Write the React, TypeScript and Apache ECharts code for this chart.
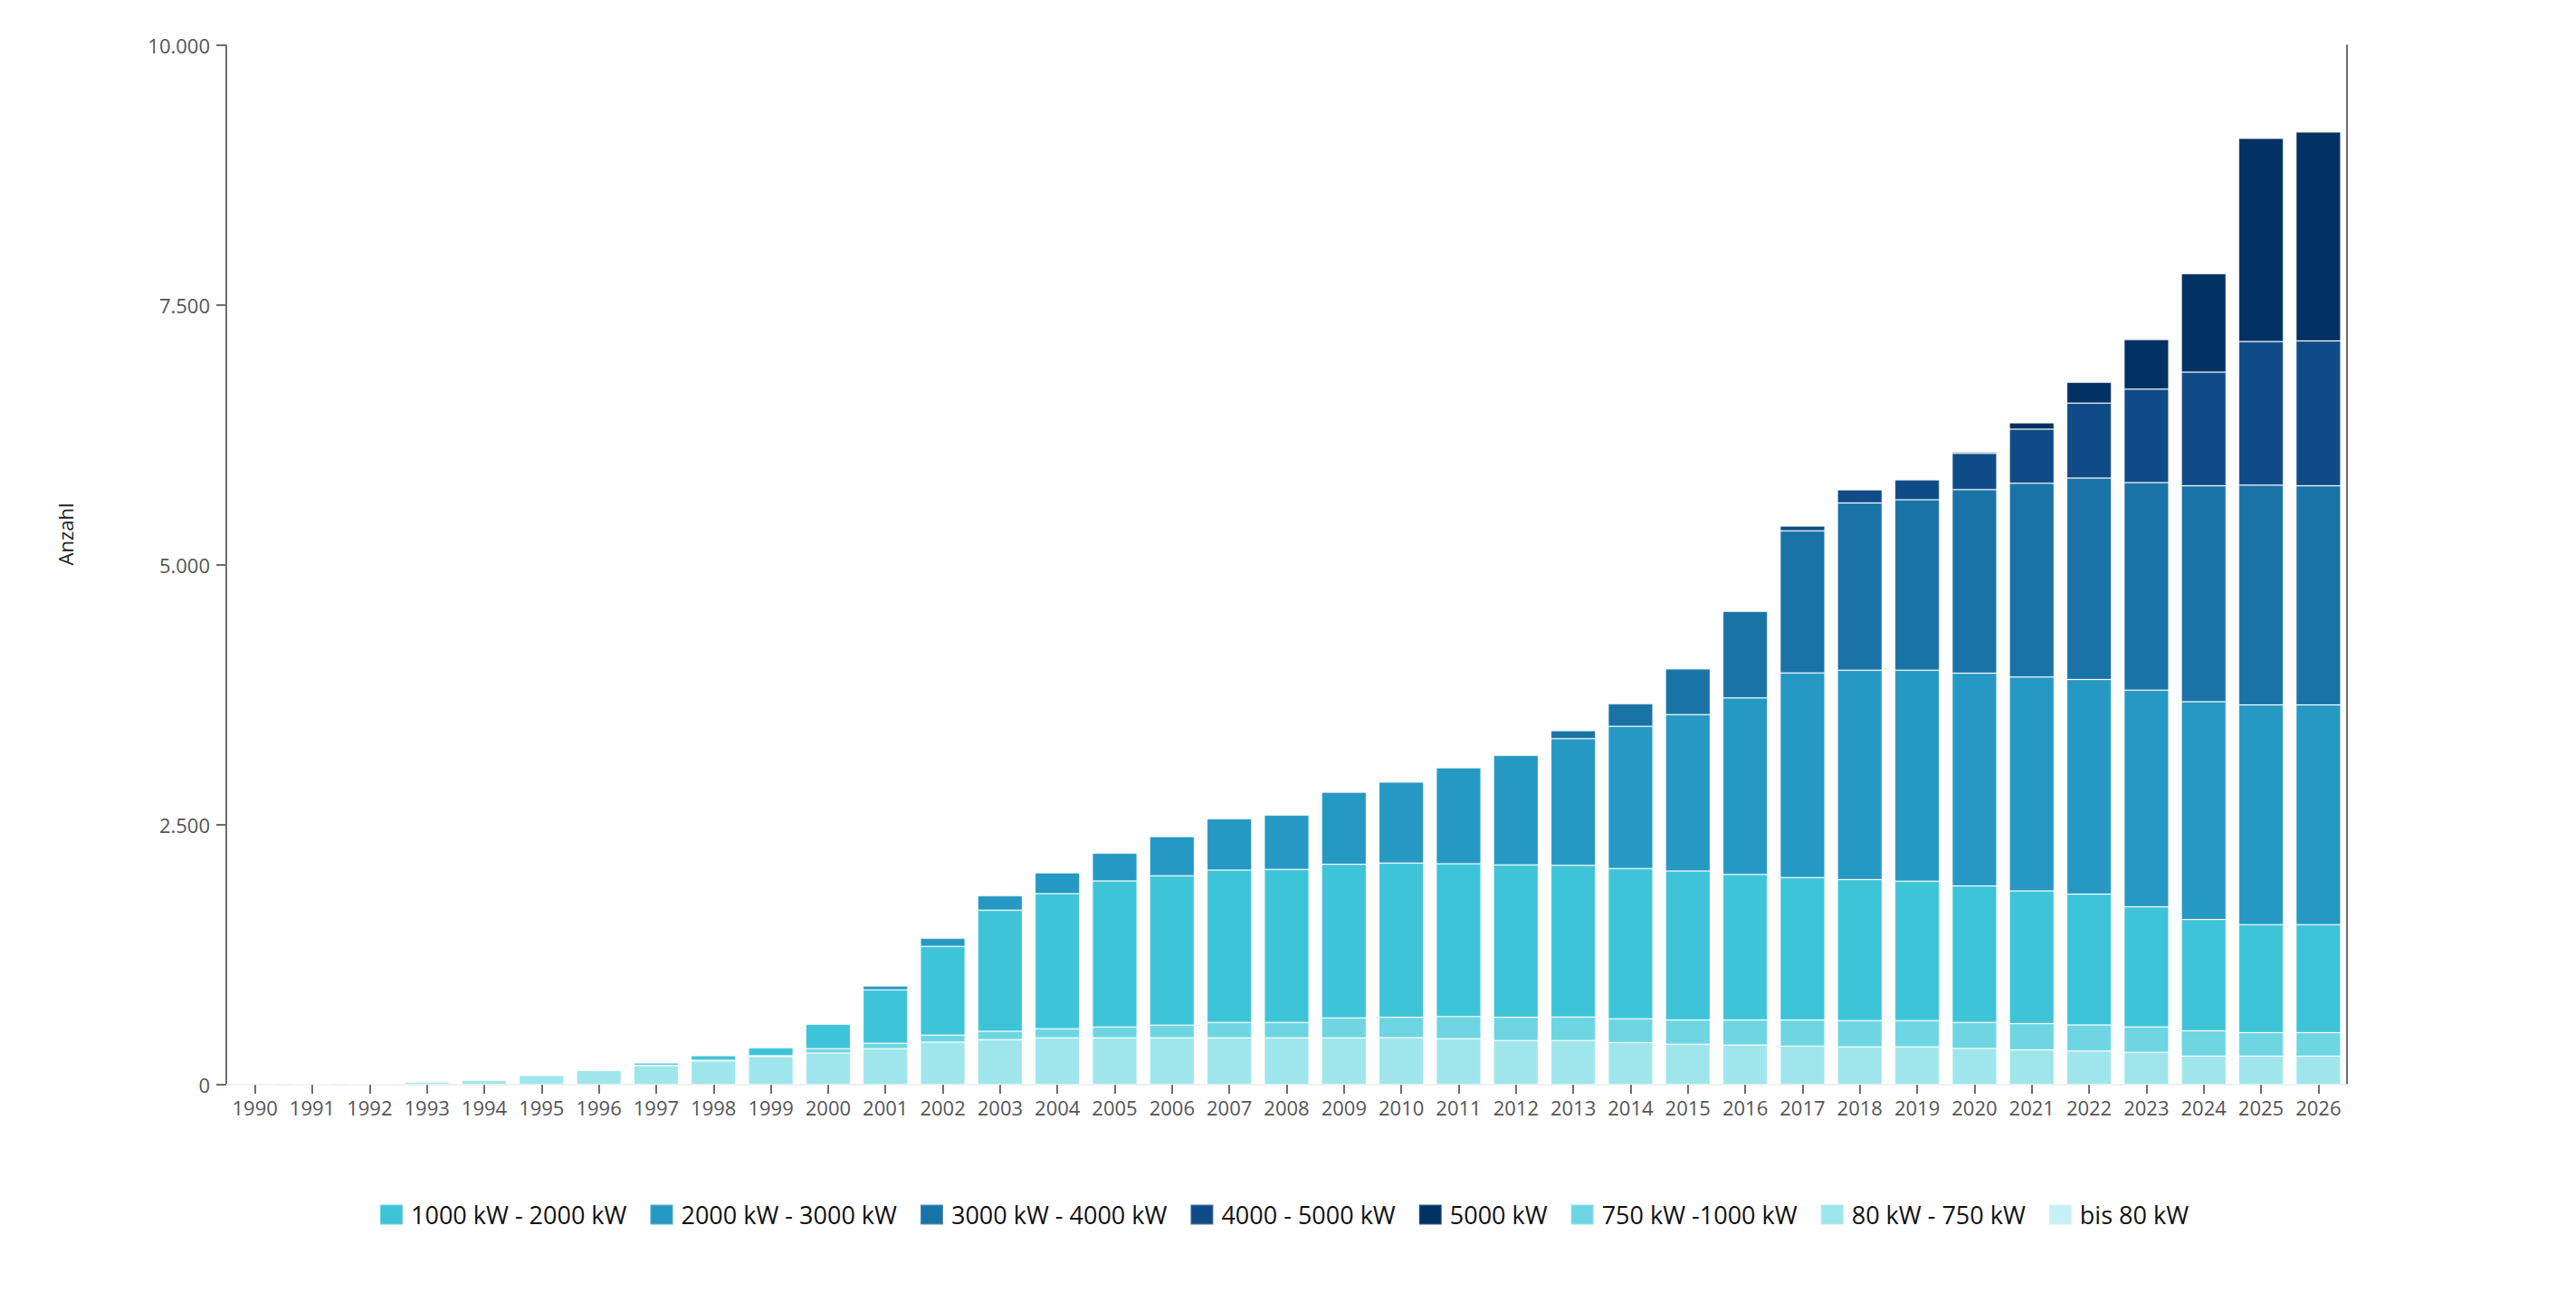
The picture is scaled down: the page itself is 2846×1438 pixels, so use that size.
import React, { useEffect, useRef } from "react";
import * as echarts from "echarts";

const years = [
  "1990","1991","1992","1993","1994","1995","1996","1997","1998","1999",
  "2000","2001","2002","2003","2004","2005","2006","2007","2008","2009",
  "2010","2011","2012","2013","2014","2015","2016","2017","2018","2019",
  "2020","2021","2022","2023","2024","2025","2026",
];

const bis80 = [1,2,3,3,3,3,3,3,3,3,3,3,3,3,3,3,3,3,3,3,3,3,3,3,3,3,2,2,2,2,2,2,2,2,2,2,2];
const kw80to750 = [2,3,6,20,38,87,134,180,226,267,302,343,406,430,447,447,447,447,447,447,449,438,421,421,403,386,380,369,362,362,346,334,322,310,273,273,273];
const kw750to1000 = [0,0,0,0,0,0,0,5,6,9,41,52,67,81,87,105,122,148,148,192,196,214,224,227,228,234,241,252,252,252,251,251,250,244,244,226,226];
const kw1000to2000 = [0,0,0,0,0,0,0,21,44,75,235,514,854,1164,1301,1405,1437,1466,1472,1478,1484,1470,1466,1460,1445,1432,1400,1369,1358,1341,1314,1277,1259,1155,1070,1039,1039];
const kw2000to3000 = [0,0,0,0,0,0,0,0,0,0,0,37,78,140,200,267,378,494,523,694,780,924,1054,1218,1369,1505,1698,1970,2013,2030,2047,2059,2066,2084,2096,2114,2114];
const kw3000to4000 = [0,0,0,0,0,0,0,0,0,0,0,0,0,0,0,0,0,0,0,0,0,0,10,77,217,441,833,1366,1610,1641,1766,1864,1937,1998,2077,2114,2108];
const kw4000to5000 = [0,0,0,0,0,0,0,0,0,0,0,0,0,0,0,0,0,0,0,0,0,0,0,0,0,0,0,47,126,190,348,519,721,898,1094,1381,1393];
const kw5000 = [0,0,0,0,0,0,0,0,0,0,0,0,0,0,0,0,0,0,0,0,0,0,0,0,0,0,0,0,0,0,12,61,201,477,947,1956,2011];

const yTicks = { min: 0, max: 10000, interval: 2500 };

const seriesDefs = [
  { name: "bis 80 kW", data: bis80, color: "#C6F1F6" },
  { name: "80 kW - 750 kW", data: kw80to750, color: "#9EE6EC" },
  { name: "750 kW -1000 kW", data: kw750to1000, color: "#6DD6E2" },
  { name: "1000 kW - 2000 kW", data: kw1000to2000, color: "#3EC4D8" },
  { name: "2000 kW - 3000 kW", data: kw2000to3000, color: "#2599C4" },
  { name: "3000 kW - 4000 kW", data: kw3000to4000, color: "#1A73A6" },
  { name: "4000 - 5000 kW", data: kw4000to5000, color: "#0F4C87" },
  { name: "5000 kW", data: kw5000, color: "#023163" },
];

const legendOrder = [
  "1000 kW - 2000 kW",
  "2000 kW - 3000 kW",
  "3000 kW - 4000 kW",
  "4000 - 5000 kW",
  "5000 kW",
  "750 kW -1000 kW",
  "80 kW - 750 kW",
  "bis 80 kW",
];

const FONT = "'Open Sans', 'Noto Sans', sans-serif";

function fmt(v: number) {
  return String(v).replace(/\B(?=(\d{3})+(?!\d))/g, ".");
}

export default function App() {
  const ref = useRef<HTMLDivElement>(null);
  useEffect(() => {
    document.body.style.margin = "0";
    if (!ref.current) return;
    const chart = echarts.init(ref.current, undefined, { renderer: "svg" });
    chart.setOption({
      animation: false,
      backgroundColor: "#ffffff",
      textStyle: { fontFamily: FONT },
      grid: { left: 250, right: 253, top: 50, bottom: 240, containLabel: false },
      legend: {
        data: legendOrder,
        left: 414,
        top: 1323,
        icon: "rect",
        itemWidth: 25,
        itemHeight: 22,
        itemGap: 25,
        textStyle: { fontSize: 27, color: "#111111", fontFamily: FONT, padding: [0, 0, 0, 4] },
      },
      graphic: [
        {
          type: "text",
          x: 72,
          y: 590,
          rotation: Math.PI / 2,
          style: {
            text: "Anzahl",
            fontSize: 22,
            fontFamily: FONT,
            fill: "#222222",
            align: "center",
            verticalAlign: "middle",
          },
        },
      ],
      xAxis: [
        {
          type: "category",
          data: years,
          boundaryGap: true,
          axisLine: { show: true, lineStyle: { color: "#6e6e6e", width: 2 } },
          axisTick: { show: true, alignWithLabel: true, length: 10, lineStyle: { color: "#6e6e6e", width: 2 } },
          axisLabel: { color: "#555555", fontSize: 22, margin: 14, interval: 0, fontFamily: FONT },
          splitLine: { show: false },
        },
        {
          type: "category",
          position: "top",
          data: years,
          axisLine: { show: true, lineStyle: { color: "#f0f0f2", width: 2 } },
          axisTick: { show: false },
          axisLabel: { show: false },
          splitLine: { show: false },
        },
      ],
      yAxis: [
        {
          type: "value",
          min: yTicks.min,
          max: yTicks.max,
          interval: yTicks.interval,
          axisLine: { show: true, lineStyle: { color: "#6e6e6e", width: 2 } },
          axisTick: { show: true, length: 11, lineStyle: { color: "#6e6e6e", width: 2 } },
          axisLabel: { color: "#555555", fontSize: 22, margin: 18, formatter: (v: number) => fmt(v), fontFamily: FONT },
          splitLine: { show: false },
        },
        {
          type: "value",
          position: "right",
          min: yTicks.min,
          max: yTicks.max,
          interval: yTicks.interval,
          axisLine: { show: true, lineStyle: { color: "#6e6e6e", width: 2 } },
          axisTick: { show: false },
          axisLabel: { show: false },
          splitLine: { show: false },
        },
      ],
      series: seriesDefs.map((s) => ({
        name: s.name,
        type: "bar",
        stack: "total",
        xAxisIndex: 0,
        yAxisIndex: 0,
        barCategoryGap: "22%",
        data: s.data.map((v) => (v === 0 ? null : v)),
        itemStyle: { color: s.color, borderColor: "rgba(255,255,255,0.22)", borderWidth: 1 },
        emphasis: { disabled: true },
      })),
    });
    return () => chart.dispose();
  }, []);
  return <div ref={ref} style={{ width: "2846px", height: "1438px" }} />;
}
